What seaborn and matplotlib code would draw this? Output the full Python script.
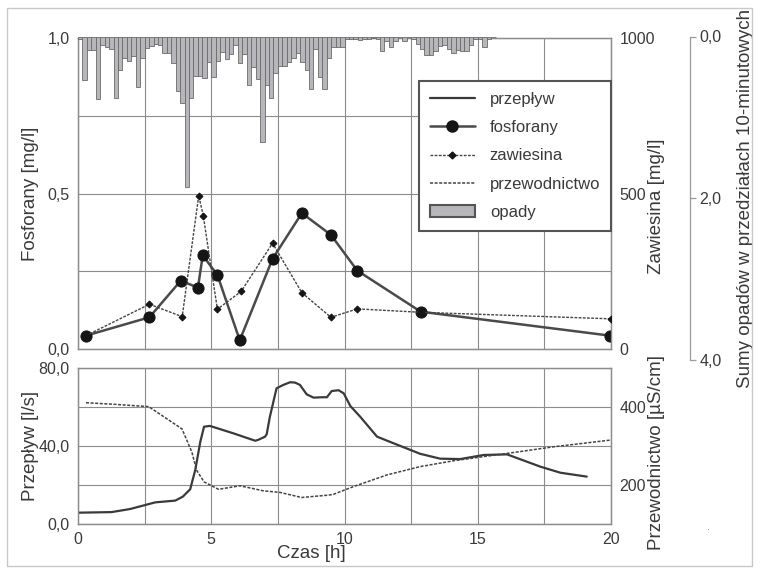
import numpy as np
import pandas as pd
import matplotlib
matplotlib.use("Agg")
import matplotlib.pyplot as plt
import seaborn as sns
from matplotlib.lines import Line2D
from matplotlib.patches import Patch, Rectangle
from matplotlib.ticker import FixedLocator, FixedFormatter

sns.set_theme(style="white")
plt.rcParams["font.family"] = ["Liberation Sans", "DejaVu Sans"]

# ---------------- data ----------------
phos_t = [0.3, 2.68, 3.86, 4.5, 4.68, 5.23, 6.07, 7.3, 8.4, 9.49, 10.48, 12.86, 19.96]
phos_v = [0.043, 0.102, 0.22, 0.197, 0.301, 0.238, 0.028, 0.29, 0.437, 0.367, 0.252, 0.12, 0.043]

tss_t = [0.3, 2.68, 3.91, 4.53, 4.7, 5.23, 6.12, 7.3, 8.4, 9.49, 10.48, 12.86, 20.0]
tss_v = [43, 144, 104, 493, 429, 128, 185, 340, 181, 102, 129, 118, 97]

rain_mm = [0.035, 0.54, 0.17, 0.17, 0.77, 0.11, 0.13, 0.16, 0.76, 0.41,
           0.27, 0.30, 0.24, 0.63, 0.26, 0.14, 0.12, 0.09, 0.11, 0.21,
           0.21, 0.33, 0.67, 0.82, 1.86, 0.76, 0.49, 0.49, 0.51, 0.31,
           0.50, 0.30, 0.19, 0.28, 0.22, 0.11, 0.33, 0.22, 0.60, 0.38,
           0.53, 1.30, 0.60, 0.76, 0.45, 0.36, 0.36, 0.31, 0.26, 0.21,
           0.31, 0.41, 0.65, 0.16, 0.50, 0.65, 0.26, 0.13, 0.13, 0.13,
           0.035, 0.03, 0.035, 0.04, 0.035, 0.03, 0.02, 0.035, 0.18, 0.06,
           0.13, 0.06, 0.0, 0.06, 0.0, 0.035, 0.09, 0.15, 0.23, 0.23,
           0.18, 0.12, 0.11, 0.16, 0.21, 0.17, 0.18, 0.18, 0.11, 0.035,
           0.03, 0.13, 0.03, 0.01]
rain_interval_h = 1 / 6  # 10-minute intervals

flow_t = [0.0, 1.26, 1.96, 2.9, 3.65, 3.93, 4.21, 4.4, 4.59, 4.73, 4.95, 5.83,
          6.65, 6.77, 7.02, 7.08, 7.2, 7.45, 7.7, 7.96, 8.15, 8.33, 8.58, 8.84,
          9.15, 9.34, 9.52, 9.78, 9.97, 10.22, 10.59, 11.22, 11.84, 12.84,
          13.59, 14.34, 15.22, 16.1, 17.35, 18.1, 19.09]
flow_v = [5.8, 6.1, 7.7, 11.1, 12.0, 14.0, 17.8, 27.7, 42.2, 49.9, 50.3, 46.5,
          42.7, 43.2, 44.8, 46.0, 55.0, 69.6, 71.3, 72.7, 72.5, 71.3, 66.5, 64.8,
          65.0, 65.0, 68.2, 68.6, 67.0, 60.5, 55.0, 44.8, 41.4, 36.0,
          33.5, 33.3, 35.4, 35.7, 29.4, 26.3, 24.3]

cond_t = [0.3, 1.34, 2.65, 3.9, 4.27, 4.45, 4.73, 5.27, 6.08, 6.96, 7.58, 8.39,
          9.4, 9.58, 10.34, 11.6, 12.83, 14.08, 16.1, 17.85, 19.96]
cond_v = [411, 407, 401, 344, 285, 238, 208, 189, 198, 185, 181, 168,
          174, 176, 196, 226, 247, 262, 281, 298, 315]

phos_ticks = [0.0, 0.5, 1.0]
phos_ticklabels = ["0,0", "0,5", "1,0"]
tss_ticks = [0, 500, 1000]
tss_ticklabels = ["0", "500", "1000"]
rain_ticks = [0.0, 2.0, 4.0]
rain_ticklabels = ["0,0", "2,0", "4,0"]
flow_ticks = [0, 40, 80]
flow_ticklabels = ["0,0", "40,0", "80,0"]
cond_ticks = [200, 400]
cond_ticklabels = ["200", "400"]
time_ticks = [0, 5, 10, 15, 20]
time_ticklabels = ["0", "5", "10", "15", "20"]

# ---------------- style ----------------
TXT = "#3a3a3a"
GRID = "#8c8c8c"
TFS = 11.5
LFS = 13.5

W, H = 761, 568
fig = plt.figure(figsize=(W / 100, H / 100), dpi=100)
fig.patch.set_facecolor("white")


def fx(px):
    return px / W


def fy(py):
    return 1 - py / H


L, R = 78, 611
ax1 = fig.add_axes([fx(L), fy(349), fx(R) - fx(L), fy(38) - fy(349)])
ax2 = fig.add_axes([fx(L), fy(524), fx(R) - fx(L), fy(368) - fy(524)])

for ax in (ax1, ax2):
    ax.set_facecolor("white")
    ax.set_xlim(0, 20)
    ax.xaxis.set_major_locator(FixedLocator(time_ticks))
    ax.xaxis.set_minor_locator(FixedLocator([2.5, 7.5, 12.5, 17.5]))
    ax.grid(True, which="both", color=GRID, lw=0.8)
    ax.set_axisbelow(True)
    for s in ax.spines.values():
        s.set_color(GRID)
        s.set_linewidth(0.9)
    ax.tick_params(which="both", length=0, colors=TXT, labelsize=TFS, pad=6)

# ---- top panel ----
ax1.set_ylim(0, 1.0)
ax1.yaxis.set_major_locator(FixedLocator(phos_ticks))
ax1.yaxis.set_major_formatter(FixedFormatter(phos_ticklabels))
ax1.yaxis.set_minor_locator(FixedLocator([0.25, 0.75]))
ax1.tick_params(axis="x", labelbottom=False)

sns.lineplot(x=phos_t, y=phos_v, ax=ax1, color="#4a4a4a", lw=1.8, marker="o",
             markersize=8, markerfacecolor="#151515", markeredgecolor="#151515",
             estimator=None, sort=False, zorder=4)

ax1z = ax1.twinx()
ax1z.set_ylim(0, 1000)
ax1z.yaxis.set_major_locator(FixedLocator(tss_ticks))
ax1z.yaxis.set_major_formatter(FixedFormatter(tss_ticklabels))
ax1z.tick_params(length=0, colors=TXT, labelsize=TFS, pad=6)
for s in ax1z.spines.values():
    s.set_color(GRID)
    s.set_linewidth(0.9)
ax1z.grid(False)
sns.lineplot(x=tss_t, y=tss_v, ax=ax1z, color="#444444", lw=1.0,
             linestyle=(0, (2, 1)), marker="D", markersize=3.5,
             markerfacecolor="#151515", markeredgecolor="#151515",
             estimator=None, sort=False, zorder=3)

ax1.set_ylabel("Fosforany [mg/l]", fontsize=LFS, color=TXT)
ax1.yaxis.set_label_coords((39 - L) / (R - L), 0.5)
ax1z.set_ylabel("Zawiesina [mg/l]", fontsize=LFS, color=TXT, rotation=90)
ax1z.yaxis.set_label_coords((648 - L) / (R - L), 0.46)

# ---- rain axis ----
axr = fig.add_axes([fx(L), fy(360), fx(R) - fx(L), fy(36.5) - fy(360)])
axr.set_facecolor("none")
axr.set_xlim(0, 20)
axr.set_ylim(4.0, 0.0)
rain_t = np.arange(len(rain_mm)) * rain_interval_h
axr.bar(rain_t, rain_mm, width=rain_interval_h, align="edge",
        color="#b7b7bb", edgecolor="#6a6a6a", linewidth=0.6, zorder=2)
for k in ("left", "top", "bottom"):
    axr.spines[k].set_visible(False)
axr.spines["right"].set_position(("axes", (690 - L) / (R - L)))
axr.spines["right"].set_color("#9a9a9a")
axr.spines["right"].set_linewidth(0.9)
axr.yaxis.tick_right()
axr.yaxis.set_label_position("right")
axr.yaxis.set_major_locator(FixedLocator(rain_ticks))
axr.yaxis.set_major_formatter(FixedFormatter(rain_ticklabels))
axr.tick_params(axis="y", length=4, width=0.9, color="#9a9a9a", colors=TXT,
                labelsize=TFS, pad=3)
axr.tick_params(axis="y", color="#9a9a9a")
axr.set_xticks([])
axr.grid(False)
axr.set_ylabel("Sumy opadów w przedziałach 10-minutowych", fontsize=LFS,
               color=TXT, rotation=90)
axr.yaxis.set_label_coords((737 - L) / (R - L), 0.5)

# ---- bottom panel ----
ax2.set_ylim(0, 80)
ax2.yaxis.set_major_locator(FixedLocator(flow_ticks))
ax2.yaxis.set_major_formatter(FixedFormatter(flow_ticklabels))
ax2.yaxis.set_minor_locator(FixedLocator([20, 60]))
ax2.xaxis.set_major_formatter(FixedFormatter(time_ticklabels))
sns.lineplot(x=flow_t, y=flow_v, ax=ax2, color="#3a3a3a", lw=1.6,
             estimator=None, sort=False, zorder=3)

ax2c = ax2.twinx()
ax2c.set_ylim(100, 500)
ax2c.yaxis.set_major_locator(FixedLocator(cond_ticks))
ax2c.yaxis.set_major_formatter(FixedFormatter(cond_ticklabels))
ax2c.tick_params(length=0, colors=TXT, labelsize=TFS, pad=6)
ax2c.grid(False)
for s in ax2c.spines.values():
    s.set_color(GRID)
    s.set_linewidth(0.9)
sns.lineplot(x=cond_t, y=cond_v, ax=ax2c, color="#444444", lw=1.1,
             linestyle=(0, (2, 1)), estimator=None, sort=False, zorder=3)

ax2.set_ylabel("Przepływ [l/s]", fontsize=LFS, color=TXT)
ax2.yaxis.set_label_coords((39 - L) / (R - L), 0.5)
ax2c.set_ylabel("Przewodnictwo [µS/cm]", fontsize=LFS, color=TXT, rotation=90)
ax2c.yaxis.set_label_coords((648 - L) / (R - L), 0.46)
ax2.set_xlabel("Czas [h]", fontsize=LFS, color=TXT)
ax2.xaxis.set_label_coords((311 - L) / (R - L), (524 - 545) / (524 - 368))

# ---- legend ----
handles = [
    Line2D([], [], color="#3a3a3a", lw=1.6),
    Line2D([], [], color="#4a4a4a", lw=1.8, marker="o", markersize=8,
           markerfacecolor="#151515", markeredgecolor="#151515"),
    Line2D([], [], color="#444444", lw=1.0, linestyle=(0, (2, 1)), marker="D",
           markersize=3.5, markerfacecolor="#151515", markeredgecolor="#151515"),
    Line2D([], [], color="#444444", lw=1.1, linestyle=(0, (2, 1))),
    Patch(facecolor="#b7b7bb", edgecolor="#555555", linewidth=1.5),
]
labels = ["przepływ", "fosforany", "zawiesina", "przewodnictwo", "opady"]
leg = fig.legend(handles, labels, loc="upper left",
                 bbox_to_anchor=(fx(419), fy(81)), borderaxespad=0,
                 fontsize=12, frameon=True, fancybox=False, framealpha=1,
                 edgecolor="#555555", handlelength=2.7, handletextpad=0.9,
                 labelspacing=0.8, borderpad=0.65)
leg.get_frame().set_linewidth(1.5)
for t in leg.get_texts():
    t.set_color(TXT)

# stray dot and outer frame
fig.text(fx(709), fy(530), ".", fontsize=8, color="#777777", ha="center")
fig.patches.append(Rectangle((fx(7), fy(566)), fx(752) - fx(7), fy(8) - fy(566),
                             transform=fig.transFigure, fill=False,
                             edgecolor="#c8c8c8", lw=1.0))

fig.savefig("out.png", dpi=100)
